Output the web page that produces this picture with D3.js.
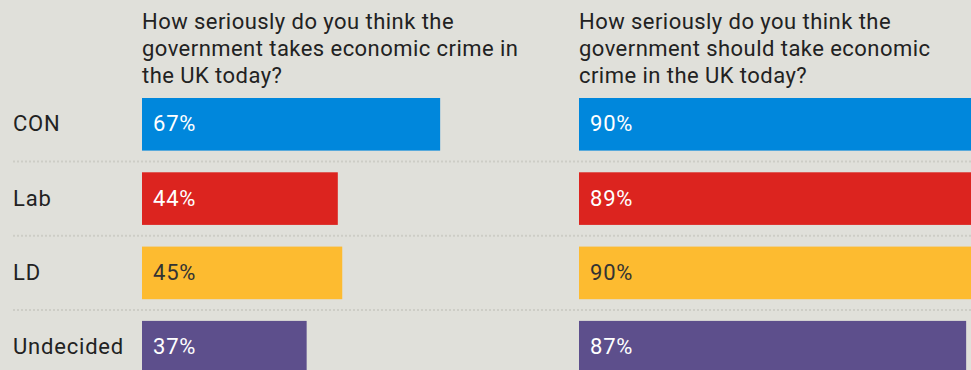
<!DOCTYPE html>
<html>
<head>
<meta charset="utf-8">
<script src="https://cdn.jsdelivr.net/npm/d3@7"></script>
<style>
  html, body { margin: 0; padding: 0; background: #e0e0da; }
  svg { display: block; font-family: Roboto, "Noto Sans", sans-serif; }
</style>
</head>
<body>
<svg id="chart" width="971" height="370"></svg>
<script>
// Survey responses by party, two questions side by side
const parties = ["CON", "Lab", "LD", "Undecided"];
const takesValues = [67, 44, 45, 37];
const shouldValues = [90, 89, 90, 87];
const partyColors = ["#0087dc", "#dc241f", "#fdbb30", "#5d4f8c"];
const labelColors = ["#ffffff", "#ffffff", "#333333", "#ffffff"];
const titleTakes = ["How seriously do you think the", "government takes economic crime in", "the UK today?"];
const titleShould = ["How seriously do you think the", "government should take economic", "crime in the UK today?"];

const W = 971, H = 370;
const svg = d3.select("#chart");

svg.append("rect").attr("width", W).attr("height", H).attr("fill", "#e0e0da");

const y = d3.scaleBand()
  .domain(parties)
  .range([87.15, 384.35])
  .paddingInner(0.292)
  .paddingOuter(0.146);

const panels = [
  { values: takesValues, title: titleTakes, x: d3.scaleLinear().domain([0, 100]).range([142, 587]) },
  { values: shouldValues, title: titleShould, x: d3.scaleLinear().domain([0, 100]).range([579, 1024]) }
];

// dotted row separators
const gap = (y.step() - y.bandwidth()) / 2;
svg.append("g").selectAll("line")
  .data(parties.slice(0, -1))
  .join("line")
  .attr("x1", 13).attr("x2", W)
  .attr("y1", d => y(d) + y.bandwidth() + gap)
  .attr("y2", d => y(d) + y.bandwidth() + gap)
  .attr("stroke", "#cdcdc6")
  .attr("stroke-width", 2)
  .attr("stroke-dasharray", "2,2");

// category labels
svg.append("g").selectAll("text")
  .data(parties)
  .join("text")
  .attr("x", 13)
  .attr("y", d => y(d) + y.bandwidth() / 2 + 6.9)
  .attr("font-size", 22)
  .attr("letter-spacing", 0.8)
  .attr("fill", "#222")
  .text(d => d);

panels.forEach(p => {
  const g = svg.append("g");
  g.append("text")
    .attr("font-size", 22)
    .attr("letter-spacing", 0.45)
    .attr("fill", "#222")
    .selectAll("tspan")
    .data(p.title)
    .join("tspan")
    .attr("x", p.x(0))
    .attr("y", (d, i) => 28.5 + i * 27.2)
    .text(d => d);

  g.selectAll("rect.bar")
    .data(parties)
    .join("rect")
    .attr("class", "bar")
    .attr("x", p.x(0))
    .attr("y", d => y(d))
    .attr("width", (d, i) => p.x(p.values[i]) - p.x(0))
    .attr("height", y.bandwidth())
    .attr("fill", (d, i) => partyColors[i]);

  g.selectAll("text.val")
    .data(parties)
    .join("text")
    .attr("class", "val")
    .attr("x", p.x(0) + 11)
    .attr("y", d => y(d) + y.bandwidth() / 2 + 6.9)
    .attr("font-size", 22)
    .attr("letter-spacing", 0.8)
    .attr("fill", (d, i) => labelColors[i])
    .text((d, i) => p.values[i] + "%");
});
</script>
</body>
</html>
